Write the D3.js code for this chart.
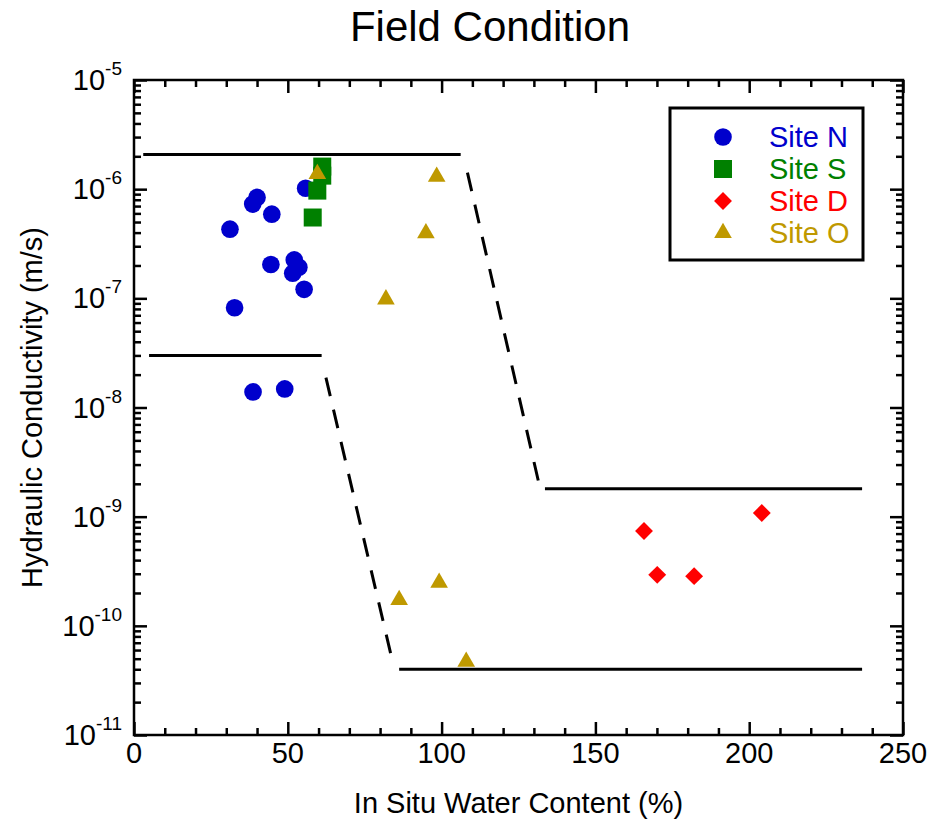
<!DOCTYPE html>
<html>
<head>
<meta charset="utf-8">
<script src="https://cdn.jsdelivr.net/npm/d3@7"></script>
<style>
  body { margin: 0; background: #fff; }
  text { font-family: "Liberation Sans", Arial, sans-serif; }
</style>
</head>
<body>
<div id="chart"></div>
<script>
// water content (%) and hydraulic conductivity (m/s) per site
const siteN = [[55.8, 1.02e-6], [40.0, 8.4e-7], [38.6, 7.3e-7], [44.8, 5.9e-7], [31.2, 4.3e-7],
               [44.5, 2.04e-7], [52.1, 2.25e-7], [53.6, 1.93e-7], [51.6, 1.70e-7], [55.3, 1.21e-7],
               [32.7, 8.2e-8], [38.7, 1.39e-8], [49.0, 1.48e-8]];
const siteS = [[61.2, 1.61e-6], [61.2, 1.33e-6], [59.6, 9.7e-7], [58.1, 5.5e-7]];
const siteD = [[165.8, 7.4e-10], [170.1, 2.93e-10], [182.1, 2.85e-10], [204.1, 1.08e-9]];
const siteO = [[59.6, 1.38e-6], [98.4, 1.30e-6], [94.9, 3.95e-7], [81.9, 9.8e-8],
               [86.2, 1.73e-10], [99.2, 2.49e-10], [108.0, 4.7e-11]];

// bounding lines [water content, conductivity]
const upperTop    = [[3, 2.08e-6], [106.2, 2.08e-6]];
const upperDrop   = [[108.4, 1.42e-6], [132.0, 1.82e-9]];
const upperBottom = [[133.6, 1.8e-9], [236.7, 1.8e-9]];
const lowerTop    = [[4.9, 3.0e-8], [61.0, 3.0e-8]];
const lowerDrop   = [[62.4, 1.88e-8], [84.3, 4.4e-11]];
const lowerBottom = [[86.2, 4.0e-11], [236.7, 4.0e-11]];

const siteNames = ["Site N", "Site S", "Site D", "Site O"];
const xTicks = [0, 50, 100, 150, 200, 250];
const yExponents = [-11, -10, -9, -8, -7, -6, -5];

const W = 930, H = 824;
const margin = {top: 80, right: 27, bottom: 89, left: 134};
const width  = W - margin.left - margin.right;
const height = H - margin.top - margin.bottom;

const cBlue = "#0000cc", cGreen = "#008000", cRed = "#ff0000", cGold = "#bf9900";

const svg = d3.select("#chart").append("svg")
    .attr("width", W)
    .attr("height", H);

const g = svg.append("g")
    .attr("transform", "translate(" + margin.left + "," + margin.top + ")");

const x = d3.scaleLinear().domain([0, 250]).range([0, width]);
const y = d3.scaleLog().domain([1e-11, 1e-5]).range([height, 0]);

// minor tick values
const xMinor = d3.range(10, 250, 10).filter(v => v % 50 !== 0);
const yMinor = [];
yExponents.slice(0, -1).forEach(e => {
  for (let k = 2; k <= 9; k++) yMinor.push(k * Math.pow(10, e));
});
const yMajor = yExponents.map(e => Math.pow(10, e));

function styleAxis(sel) {
  sel.select(".domain").remove();
  sel.selectAll("line").attr("stroke", "#000").attr("stroke-width", 2.5);
  sel.selectAll("text").remove();
}

// ticks pointing inward on all four sides
g.append("g").attr("transform", "translate(0," + height + ")")
  .call(d3.axisBottom(x).tickValues(xTicks).tickSize(-13)).call(styleAxis);
g.append("g").attr("transform", "translate(0," + height + ")")
  .call(d3.axisBottom(x).tickValues(xMinor).tickSize(-7)).call(styleAxis);
g.append("g")
  .call(d3.axisTop(x).tickValues(xTicks).tickSize(-13)).call(styleAxis);
g.append("g")
  .call(d3.axisTop(x).tickValues(xMinor).tickSize(-7)).call(styleAxis);
g.append("g")
  .call(d3.axisLeft(y).tickValues(yMajor).tickSize(-13)).call(styleAxis);
g.append("g")
  .call(d3.axisLeft(y).tickValues(yMinor).tickSize(-7)).call(styleAxis);
g.append("g").attr("transform", "translate(" + width + ",0)")
  .call(d3.axisRight(y).tickValues(yMajor).tickSize(-13)).call(styleAxis);
g.append("g").attr("transform", "translate(" + width + ",0)")
  .call(d3.axisRight(y).tickValues(yMinor).tickSize(-7)).call(styleAxis);

// frame
g.append("rect")
  .attr("width", width).attr("height", height)
  .attr("fill", "none").attr("stroke", "#000").attr("stroke-width", 2.5);

// x tick labels
g.selectAll(".xlab").data(xTicks).enter().append("text")
  .attr("x", d => x(d)).attr("y", height + 28)
  .attr("text-anchor", "middle").attr("font-size", 29)
  .text(d => d);

// y tick labels, 10 with superscript exponent
const ylab = g.selectAll(".ylab").data(yExponents).enter().append("text")
  .attr("x", -12).attr("y", d => y(Math.pow(10, d)) + 10)
  .attr("text-anchor", "end").attr("font-size", 29);
ylab.append("tspan").text("10");
ylab.append("tspan").attr("dy", -15).attr("font-size", 19).text(d => "-" + Math.abs(d));

// axis titles
svg.append("text")
  .attr("x", margin.left + width / 2).attr("y", 813)
  .attr("text-anchor", "middle").attr("font-size", 29)
  .text("In Situ Water Content (%)");

svg.append("text")
  .attr("transform", "translate(42," + (margin.top + height / 2) + ") rotate(-90)")
  .attr("text-anchor", "middle").attr("font-size", 29)
  .text("Hydraulic Conductivity (m/s)");

svg.append("text")
  .attr("x", 490).attr("y", 41)
  .attr("text-anchor", "middle").attr("font-size", 42)
  .text("Field Condition");

// bounding lines
const line = d3.line().x(d => x(d[0])).y(d => y(d[1]));
[upperTop, upperBottom, lowerTop, lowerBottom].forEach(seg => {
  g.append("path").datum(seg).attr("d", line)
    .attr("fill", "none").attr("stroke", "#000").attr("stroke-width", 3);
});
[upperDrop, lowerDrop].forEach(seg => {
  g.append("path").datum(seg).attr("d", line)
    .attr("fill", "none").attr("stroke", "#000").attr("stroke-width", 3)
    .attr("stroke-dasharray", "19,14");
});

// markers
const series = [
  {data: siteN, sym: d3.symbol().type(d3.symbolCircle).size(245), rot: 0, color: cBlue},
  {data: siteS, sym: d3.symbol().type(d3.symbolSquare).size(324), rot: 0, color: cGreen},
  {data: siteD, sym: d3.symbol().type(d3.symbolSquare).size(160), rot: 45, color: cRed},
  {data: siteO, sym: d3.symbol().type(d3.symbolTriangle).size(135), rot: 0, color: cGold}
];

series.forEach(s => {
  g.selectAll(null).data(s.data).enter().append("path")
    .attr("d", s.sym())
    .attr("transform", d => "translate(" + x(d[0]) + "," + y(d[1]) + ") rotate(" + s.rot + ")")
    .attr("fill", s.color);
});

// legend
const legend = svg.append("g").attr("transform", "translate(670,108)");
legend.append("rect")
  .attr("width", 193).attr("height", 152)
  .attr("fill", "#fff").attr("stroke", "#000").attr("stroke-width", 3);

const legendRows = [29, 61, 93, 125];
series.forEach((s, i) => {
  legend.append("path")
    .attr("d", s.sym())
    .attr("transform", "translate(53," + legendRows[i] + ") rotate(" + s.rot + ")")
    .attr("fill", s.color);
  legend.append("text")
    .attr("x", 99).attr("y", legendRows[i] + 10)
    .attr("font-size", 29).attr("fill", s.color)
    .text(siteNames[i]);
});
</script>
</body>
</html>
